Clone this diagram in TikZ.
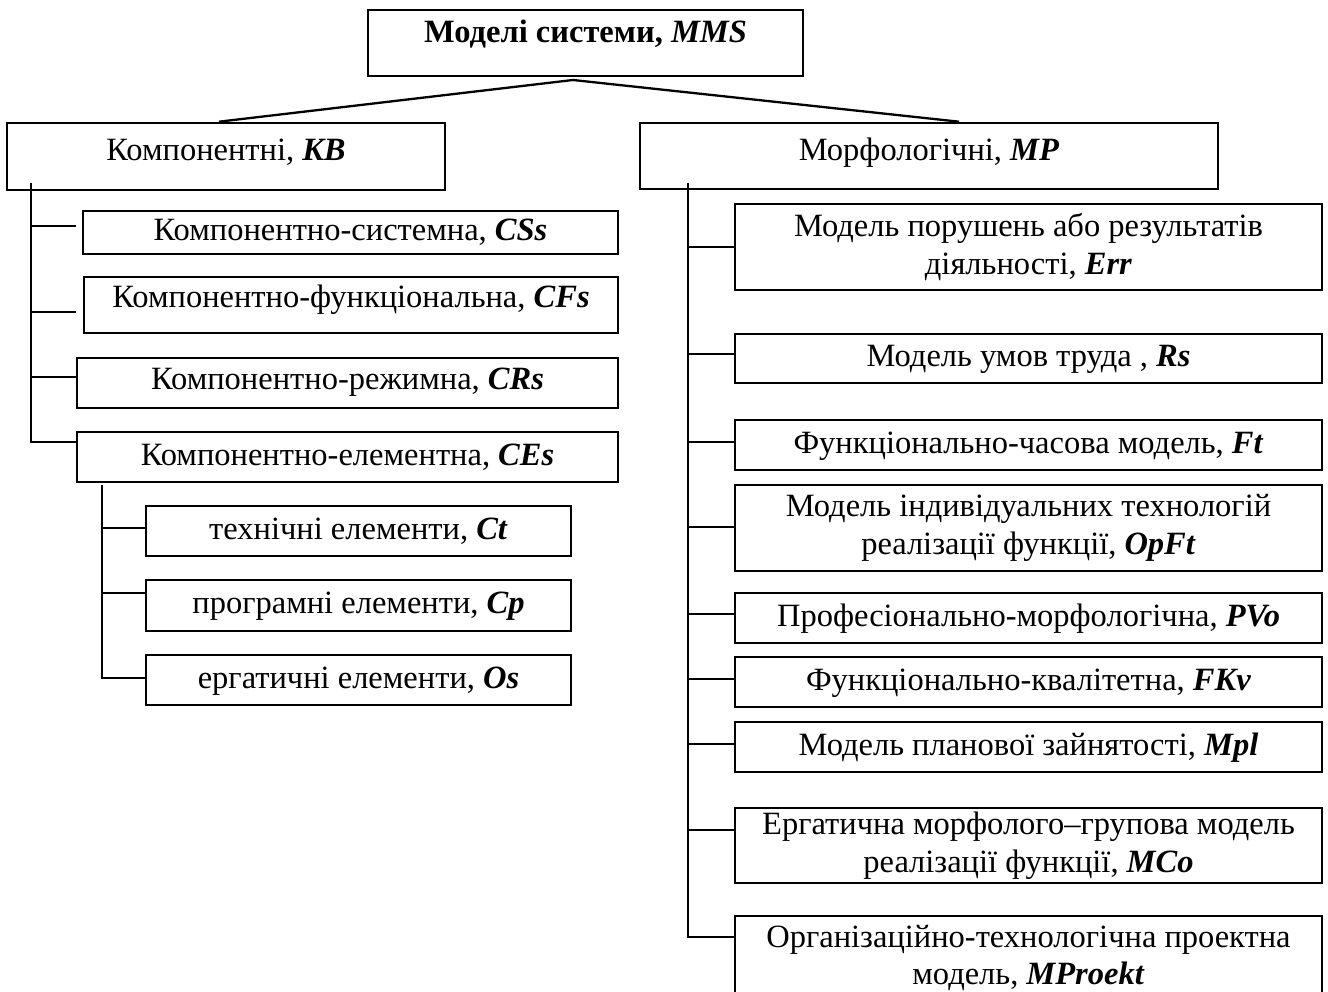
\documentclass[tikz,border=0pt]{standalone}
\usepackage{fontspec}
\setmainfont{Liberation Serif}
\newcommand{\code}[1]{\textbf{\textit{#1}}}
\begin{document}
\begin{tikzpicture}[x=1pt,y=-1pt,
  box/.style={draw, line width=2.6pt, inner sep=0pt, align=center,
    font=\fontsize{32.5}{37.5}\selectfont, text height=23pt, text depth=7pt},
  box2/.style={draw, line width=2.6pt, inner sep=0pt, align=center,
    font=\fontsize{32.5}{37.5}\selectfont},
  link/.style={line width=2.3pt},
  lcol/.style={minimum width=587pt},
]
\useasboundingbox (0,0) rectangle (1328,992);
\clip (0,0) rectangle (1328,992);

% root
\node[box, font=\bfseries\fontsize{32.5}{37.5}\selectfont, text depth=23pt,
  minimum width=435pt, minimum height=66pt] (mms) at (585.5,43) {Моделі системи, \code{MMS}};

% first level
\node[box, text depth=15pt, minimum width=438pt, minimum height=67pt] (kb) at (226,156.5) {Компонентні, \code{KB}};
\node[box, text depth=13pt, minimum width=578pt, minimum height=66pt] (mp) at (929,156) {Морфологічні, \code{MP}};

% component branch
\node[box, minimum width=535pt, minimum height=43pt] (cs) at (350.5,232.5) {Компонентно-системна, \code{CSs}};
\node[box, text depth=17pt, minimum width=534pt, minimum height=56pt] (cf) at (351,305) {Компонентно-функціональна, \code{CFs}};
\node[box, text depth=11pt, minimum width=541pt, minimum height=50pt] (cr) at (347.5,383) {Компонентно-режимна, \code{CRs}};
\node[box, minimum width=541pt, minimum height=50pt] (ce) at (347.5,457) {Компонентно-елементна, \code{CEs}};
\node[box, minimum width=425pt, minimum height=50pt] (ct) at (358.5,531) {технічні елементи, \code{Ct}};
\node[box, minimum width=425pt, minimum height=51pt] (cp) at (358.5,605.5) {програмні елементи, \code{Cp}};
\node[box, minimum width=425pt, minimum height=50pt] (os) at (358.5,680) {ергатичні елементи, \code{Os}};

% morphological branch
\node[box2, lcol, minimum height=86pt] (err) at (1028.5,247) {Модель порушень або результатів\\діяльності, \code{Err}};
\node[box, lcol, minimum height=49pt] (rs) at (1028.5,358.5) {Модель умов труда , \code{Rs}};
\node[box, lcol, minimum height=50pt] (ft) at (1028.5,445) {Функціонально-часова модель, \code{Ft}};
\node[box2, lcol, minimum height=86pt] (opft) at (1028.5,528) {Модель індивідуальних технологій\\реалізації функції, \code{OpFt}};
\node[box, lcol, minimum height=50pt] (pvo) at (1028.5,618) {Професіонально-морфологічна, \code{PVo}};
\node[box, lcol, minimum height=50pt] (fkv) at (1028.5,682) {Функціонально-квалітетна, \code{FKv}};
\node[box, lcol, minimum height=50pt] (mpl) at (1028.5,747) {Модель планової зайнятості, \code{Mpl}};
\node[box2, lcol, minimum height=75pt] (mco) at (1028.5,845.5) {Ергатична морфолого–групова модель\\реалізації функції, \code{MCo}};
\node[box2, lcol, minimum height=84pt] (mpr) at (1028.5,958) {Організаційно-технологічна проектна\\модель, \code{MProekt}};

% root links
\coordinate (apex) at (573,80);
\draw[link] ([xshift=-7pt]kb.north) -- (apex) -- ([xshift=30pt]mp.north);

% component spine
\coordinate (ls) at (31,183);
\draw[link] (ls) |- ([yshift=15pt]ce.west);
\draw[link] ([yshift=6.5pt]cs.west -| ls) -- ([xshift=-6pt,yshift=6.5pt]cs.west);
\draw[link] ([yshift=-7pt]cf.west -| ls) -- ([xshift=-7pt,yshift=-7pt]cf.west);
\draw[link] ([yshift=6pt]cr.west -| ls) -- ([yshift=6pt]cr.west);

% element spine
\coordinate (es) at (102,485);
\draw[link] (es) |- ([yshift=2pt]os.west);
\draw[link] ([yshift=3pt]ct.west -| es) -- ([yshift=3pt]ct.west);
\draw[link] ([yshift=12.5pt]cp.west -| es) -- ([yshift=12.5pt]cp.west);

% morphological spine
\coordinate (rsp) at (688,183);
\draw[link] (rsp) |- ([yshift=21pt]mpr.west);
\draw[link] (err.west -| rsp) -- (err.west);
\draw[link] ([yshift=4.5pt]rs.west -| rsp) -- ([yshift=4.5pt]rs.west);
\draw[link] ([yshift=3pt]ft.west -| rsp) -- ([yshift=3pt]ft.west);
\draw[link] ([yshift=1pt]opft.west -| rsp) -- ([yshift=1pt]opft.west);
\draw[link] ([yshift=4pt]pvo.west -| rsp) -- ([yshift=4pt]pvo.west);
\draw[link] ([yshift=3pt]fkv.west -| rsp) -- ([yshift=3pt]fkv.west);
\draw[link] ([yshift=3pt]mpl.west -| rsp) -- ([yshift=3pt]mpl.west);
\draw[link] ([yshift=15.5pt]mco.west -| rsp) -- ([yshift=15.5pt]mco.west);
\end{tikzpicture}
\end{document}
